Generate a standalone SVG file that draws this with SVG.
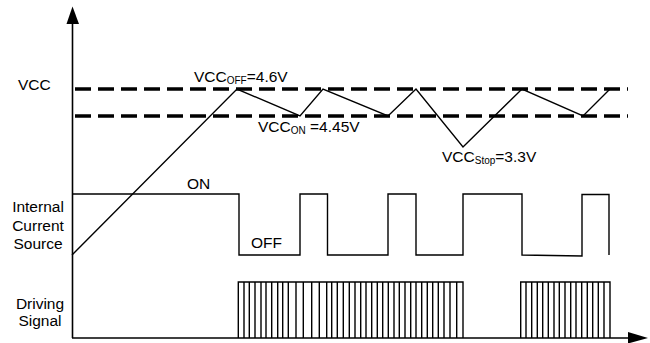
<svg xmlns="http://www.w3.org/2000/svg" width="650" height="343" viewBox="0 0 650 343">
<style>
text{font-family:"Liberation Sans",Arial,sans-serif;font-size:15.5px;fill:#000}
.sub{font-size:10px}
.lbl{text-anchor:middle}
.axis{stroke:#000;stroke-width:1.6;fill:none}
.dash{stroke:#000;stroke-width:3.5;stroke-dasharray:16 7;fill:none}
.wave{stroke:#000;stroke-width:1.4;fill:none;stroke-linejoin:miter}
.pulse{stroke:#000;stroke-width:1.4;fill:none}
</style>
<rect width="650" height="343" fill="#fff"/>
<g id="axes">
<line class="axis" x1="72.5" y1="338" x2="72.5" y2="22"/>
<polygon points="66.5,24 72.5,6.5 79,24" fill="#000"/>
<line class="axis" x1="72" y1="338" x2="630" y2="338"/>
<polygon points="628,332 648,338 628,343.5" fill="#000"/>
</g>
<g id="labels">
<text x="18" y="90">VCC</text>
<text class="lbl" x="38" y="212">Internal</text>
<text class="lbl" x="38" y="230.5">Current</text>
<text class="lbl" x="38" y="249">Source</text>
<text class="lbl" x="40" y="308.5">Driving</text>
<text class="lbl" x="40" y="325.5">Signal</text>
</g>
<g id="thresholds">
<line class="dash" x1="75" y1="89" x2="628" y2="89"/>
<line class="dash" x1="75" y1="116" x2="628" y2="116"/>
<text x="194" y="81.5">VCC<tspan class="sub" dy="2">OFF</tspan><tspan dy="-2">=4.6V</tspan></text>
<text x="258" y="131.5">VCC<tspan class="sub" dy="2">ON</tspan><tspan dy="-2"> =4.45V</tspan></text>
<text x="442" y="162">VCC<tspan class="sub" dy="2">Stop</tspan><tspan dy="-2">=3.3V</tspan></text>
</g>
<g id="connectors">
<path id="vcc-wave" class="wave" d="M72,255 L237,89 L300,116 L323,89 L388,116 L416,89 L463,147 L522,89 L583,116 L610,89"/>
<path id="current-wave" class="wave" d="M72,194 H239 V255 H300 V194 H327.5 V255 H388 V194 H416 V255 H463 V194 H522 V255 L582,256 V194.5 H609 V255"/>
</g>
<g id="state-labels">
<text x="187" y="188.5">ON</text>
<text x="251" y="248">OFF</text>
</g>
<g id="driving-signal">
<path class="pulse" d="M238.3,338 V282 H463 V338 M244,282V338 M249.3,282V338 M255,282V338 M261,282V338 M266,282V338 M271.7,282V338 M277.7,282V338 M282.7,282V338 M288.3,282V338 M296,282V338 M303.3,282V338 M311.7,282V338 M319.3,282V338 M326.7,282V338 M331.7,282V338 M337.3,282V338 M343.3,282V338 M349.3,282V338 M355,282V338 M360.7,282V338 M366,282V338 M371.7,282V338 M377.3,282V338 M382.7,282V338 M388.3,282V338 M394,282V338 M399.3,282V338 M405,282V338 M410.7,282V338 M416,282V338 M421.7,282V338 M427.3,282V338 M432.7,282V338 M438.3,282V338 M444,282V338 M450,282V338 M456.7,282V338"/>
<path class="pulse" d="M520.7,338 V282 H610 V338 M526,282V338 M531.7,282V338 M537.3,282V338 M542.7,282V338 M548.3,282V338 M554,282V338 M559.3,282V338 M565,282V338 M570.7,282V338 M576,282V338 M581.7,282V338 M587.3,282V338 M592.7,282V338 M598.3,282V338 M604,282V338"/>
</g>
</svg>
